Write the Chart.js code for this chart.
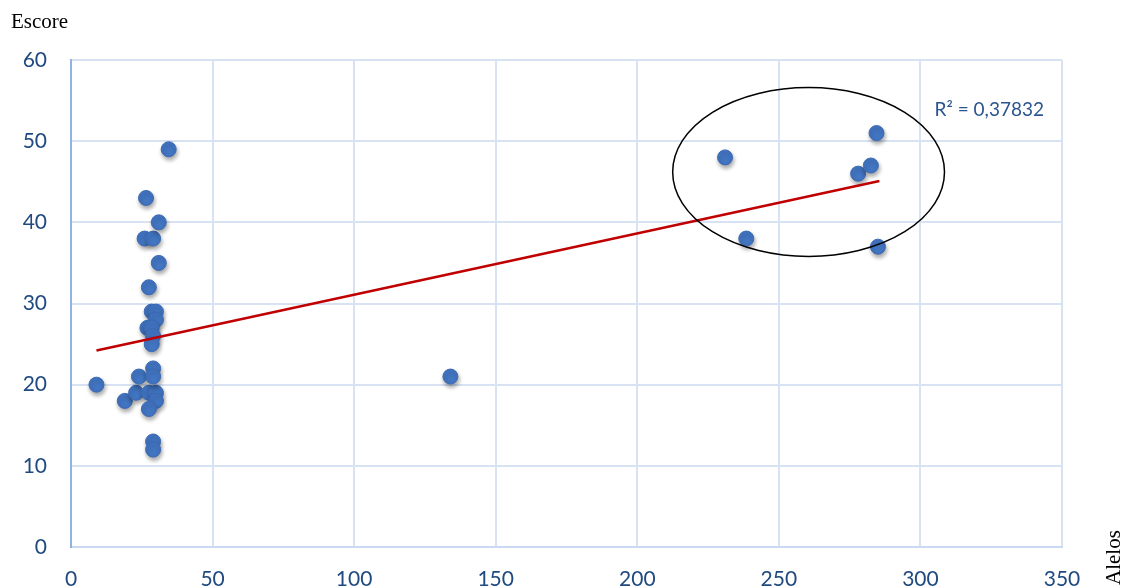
<!DOCTYPE html>
<html lang="pt">
    <head>
        <meta charset="UTF-8" />
        <title>Escore x Alelos</title>
        <script src="https://cdn.jsdelivr.net/npm/chart.js"></script>
        <style>
            html, body {
                margin: 0;
                padding: 0;
                background: #ffffff;
            }
            .chart-container {
                position: relative;
                width: 1126px;
                height: 586px;
            }
        </style>
    </head>
    <body>
        <div class="chart-container">
            <canvas id="scoreChart"></canvas>
        </div>

        <script>
            // values
            const alelos = [9, 19, 23, 24, 27.5, 30, 30, 27.5, 29, 29, 29, 29, 28.5, 30, 30, 27, 28.5, 29, 28.5,
                27.5, 31, 26, 29, 31, 26.5, 34.5, 134, 231, 238.5, 278, 282.5, 284.5, 285];
            const escore = [20, 18, 19, 21, 19, 19, 18, 17, 22, 21, 13, 12, 29, 29, 28, 27, 27, 26, 25,
                32, 35, 38, 38, 40, 43, 49, 21, 48, 38, 46, 47, 51, 37];

            // trend line end points
            const trendX = [9, 285.5];
            const trendY = [24.2, 45.1];

            const xTicks = [0, 50, 100, 150, 200, 250, 300, 350];
            const yTicks = [0, 10, 20, 30, 40, 50, 60];

            const r2Label = "R² = 0,37832";
            const xTitle = "Alelos";
            const yTitle = "Escore";

            // ellipse around the high group (center / radii in data units)
            const ellipseCenter = [260.5, 46.2];
            const ellipseRadius = [48, 10.4];

            const points = alelos.map((x, i) => ({ x: x, y: escore[i] }));
            const trend = trendX.map((x, i) => ({ x: x, y: trendY[i] }));

            const blueText = "#204a80";

            const extras = {
                id: "extras",
                beforeDatasetDraw(chart, args) {
                    if (args.index === 1) {
                        const ctx = chart.ctx;
                        ctx.save();
                        ctx.shadowColor = "rgba(0,0,0,0.35)";
                        ctx.shadowBlur = 4;
                        ctx.shadowOffsetX = 1;
                        ctx.shadowOffsetY = 3;
                    }
                },
                afterDatasetDraw(chart, args) {
                    if (args.index === 1) {
                        chart.ctx.restore();
                    }
                },
                afterDatasetsDraw(chart) {
                    const ctx = chart.ctx;
                    const xs = chart.scales.x;
                    const ys = chart.scales.y;

                    // ellipse
                    const cx = xs.getPixelForValue(ellipseCenter[0]);
                    const cy = ys.getPixelForValue(ellipseCenter[1]);
                    const rx = xs.getPixelForValue(ellipseCenter[0] + ellipseRadius[0]) - cx;
                    const ry = cy - ys.getPixelForValue(ellipseCenter[1] + ellipseRadius[1]);
                    ctx.save();
                    ctx.beginPath();
                    ctx.ellipse(cx, cy, rx, ry, 0, 0, Math.PI * 2);
                    ctx.strokeStyle = "#000000";
                    ctx.lineWidth = 1.5;
                    ctx.stroke();

                    // R² label
                    ctx.fillStyle = "#2b5590";
                    ctx.font = "19px Lato";
                    ctx.textBaseline = "middle";
                    ctx.textAlign = "left";
                    ctx.fillText(r2Label, xs.getPixelForValue(305), ys.getPixelForValue(53.8));

                    // axis titles
                    ctx.fillStyle = "#000000";
                    ctx.font = "21px 'Liberation Serif'";
                    ctx.textBaseline = "alphabetic";
                    ctx.fillText(yTitle, 11, 28);
                    ctx.translate(1120, 586);
                    ctx.rotate(-Math.PI / 2);
                    ctx.fillText(xTitle, 1, 0);
                    ctx.restore();
                },
            };

            Chart.defaults.font.family = "Lato";

            const ctx = document.getElementById("scoreChart").getContext("2d");
            new Chart(ctx, {
                type: "scatter",
                data: {
                    datasets: [
                        {
                            type: "line",
                            label: "Tendência",
                            data: trend,
                            borderColor: "#c00000",
                            borderWidth: 2.5,
                            pointRadius: 0,
                            fill: false,
                            order: 0,
                        },
                        {
                            label: "Escore",
                            data: points,
                            backgroundColor: "#4275c2",
                            borderColor: "#3b69b3",
                            borderWidth: 1,
                            pointRadius: 7.5,
                            order: 1,
                        },
                    ],
                },
                options: {
                    responsive: true,
                    maintainAspectRatio: false,
                    animation: false,
                    layout: {
                        padding: { top: 60, right: 64, bottom: 0, left: 0 },
                    },
                    plugins: {
                        legend: { display: false },
                        tooltip: { enabled: false },
                    },
                    scales: {
                        x: {
                            type: "linear",
                            min: 0,
                            max: 350,
                            afterBuildTicks: (scale) => {
                                scale.ticks = xTicks.map((v) => ({ value: v }));
                            },
                            afterFit: (scale) => {
                                scale.height = 39;
                            },
                            ticks: {
                                color: blueText,
                                font: { size: 21 },
                                padding: 20,
                                maxRotation: 0,
                            },
                            grid: {
                                color: "#d7e2f3",
                                lineWidth: 2,
                                drawTicks: false,
                            },
                            border: {
                                color: "#cad9ef",
                                width: 2,
                            },
                        },
                        y: {
                            min: 0,
                            max: 60,
                            afterBuildTicks: (scale) => {
                                scale.ticks = yTicks.map((v) => ({ value: v }));
                            },
                            afterFit: (scale) => {
                                scale.width = 71;
                            },
                            ticks: {
                                color: blueText,
                                font: { size: 21 },
                                padding: 24,
                            },
                            grid: {
                                color: "#d7e2f3",
                                lineWidth: 2,
                                drawTicks: false,
                            },
                            border: {
                                color: "#8fb4e3",
                                width: 2,
                            },
                        },
                    },
                },
                plugins: [extras],
            });
        </script>
    </body>
</html>
